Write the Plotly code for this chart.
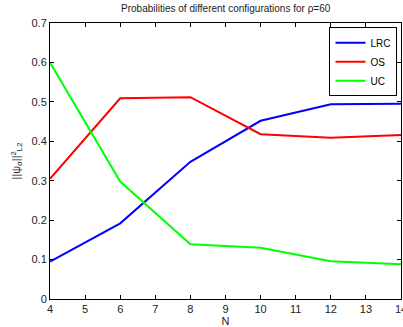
import plotly.graph_objects as go

N = [4, 6, 8, 10, 12, 14]
LRC = [0.095, 0.192, 0.348, 0.452, 0.494, 0.495]
OS = [0.305, 0.509, 0.512, 0.418, 0.409, 0.416]
UC = [0.600, 0.298, 0.139, 0.130, 0.096, 0.088]
x_ticks = list(range(4, 15))
y_ticks = [0, 0.1, 0.2, 0.3, 0.4, 0.5, 0.6, 0.7]

fig = go.Figure()
fig.add_trace(go.Scatter(x=N, y=LRC, mode="lines", name="LRC", line=dict(color="#0000ff", width=2)))
fig.add_trace(go.Scatter(x=N, y=OS, mode="lines", name="OS", line=dict(color="#ff0000", width=2)))
fig.add_trace(go.Scatter(x=N, y=UC, mode="lines", name="UC", line=dict(color="#00ff00", width=2)))

font = "Liberation Sans, Arial, sans-serif"
fig.update_layout(
    width=403, height=327,
    margin=dict(l=50, r=2, t=23, b=28),
    paper_bgcolor="white", plot_bgcolor="white",
    font=dict(family=font, size=10, color="#222"),
    title=dict(text="Probabilities of different configurations for ρ=60",
               x=0.56, xanchor="center", y=0.985, yanchor="top",
               font=dict(size=10, family=font, color="#222")),
    showlegend=True,
    legend=dict(x=0.99, xanchor="right", y=0.985, yanchor="top",
                bgcolor="white", bordercolor="black", borderwidth=1,
                font=dict(size=10, family=font, color="black"),
                tracegroupgap=0, itemwidth=30),
)
fig.update_xaxes(range=[4, 14], tickvals=x_ticks, ticktext=[str(v) for v in x_ticks],
                 showgrid=False, zeroline=False, showline=True, linecolor="black", linewidth=1,
                 mirror="ticks", ticks="inside", ticklen=4, tickcolor="black",
                 ticklabeloverflow="allow", automargin=False,
                 tickfont=dict(size=11, family=font, color="#222"),
                 title=dict(text="N", standoff=2, font=dict(size=11, family=font, color="#222")))
fig.update_yaxes(range=[0, 0.7], tickvals=y_ticks, ticktext=["0", "0.1", "0.2", "0.3", "0.4", "0.5", "0.6", "0.7"],
                 showgrid=False, zeroline=False, showline=True, linecolor="black", linewidth=1,
                 mirror="ticks", ticks="inside", ticklen=4, tickcolor="black",
                 automargin=False,
                 tickfont=dict(size=11, family=font, color="#222"),
                 title=dict(text="||ψ<sub>σ</sub>||<sup>2</sup><sub>L2</sub>", standoff=8,
                            font=dict(size=11, family=font, color="#222")))

fig.write_html("out.html", config={"displayModeBar": False},
               post_script="document.body.style.margin='0';document.body.style.overflow='hidden';")
